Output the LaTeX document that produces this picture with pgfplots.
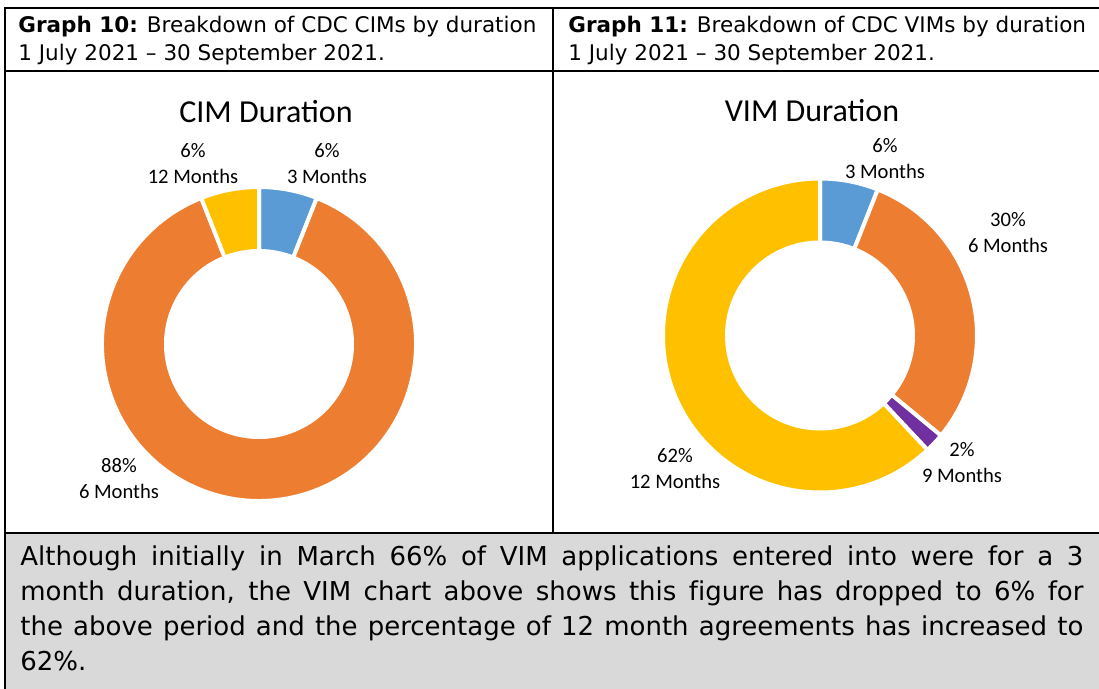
\documentclass[border=0pt]{standalone}
\usepackage{pgfplots}
\usepackage{pgfplotstable}
\pgfplotsset{compat=1.18}
\usepackage{fontspec}
\setmainfont{DejaVu Sans}[Ligatures=NoCommon]
\newfontfamily\calibri{Carlito}
\definecolor{cblue}{HTML}{5B9BD5}
\definecolor{corange}{HTML}{ED7D31}
\definecolor{cyellow}{HTML}{FFC000}
\definecolor{cpurple}{HTML}{7030A0}
\definecolor{greybg}{HTML}{D9D9D9}

\pgfplotstableread{
pct lx ly col lab
6 68 180 cblue {3 Months}
88 -140 -135 corange {6 Months}
6 -66 180 cyellow {12 Months}
}\cimtab

\pgfplotstableread{
pct lx ly col lab
6 65 177 cblue {3 Months}
30 188 103 corange {6 Months}
2 142 -127 cpurple {9 Months}
62 -145 -133 cyellow {12 Months}
}\vimtab

\newcommand\drawdonut[1]{%
  \pgfplotstablegetrowsof{#1}%
  \pgfmathtruncatemacro\nrows{\pgfplotsretval-1}%
  \gdef\curang{90}%
  \foreach \i in {0,...,\nrows}{%
    \pgfplotstablegetelem{\i}{pct}\of{#1}\let\spct\pgfplotsretval
    \pgfplotstablegetelem{\i}{col}\of{#1}\let\scol\pgfplotsretval
    \pgfplotstablegetelem{\i}{lx}\of{#1}\let\slx\pgfplotsretval
    \pgfplotstablegetelem{\i}{ly}\of{#1}\let\sly\pgfplotsretval
    \pgfplotstablegetelem{\i}{lab}\of{#1}\let\slab\pgfplotsretval
    \pgfmathsetmacro\endang{\curang-3.6*\spct}%
    \fill[\scol, draw=white, line width=2pt, shift={(axis cs:0,0)}]
      (\curang:78.5pt) arc[start angle=\curang, end angle=\endang, radius=78.5pt]
      -- (\endang:46.5pt) arc[start angle=\endang, end angle=\curang, radius=46.5pt] -- cycle;
    \node[align=center, inner sep=0, font=\calibri\fontsize{10.3}{13}\selectfont]
      at (axis cs:\slx,\sly) {\spct\%\\\slab};
    \xdef\curang{\endang}%
  }%
}

\begin{document}
\begin{tikzpicture}
\begin{scope}[x=0.5pt,y=-0.5pt]
\useasboundingbox (0,0) rectangle (1099,689);
\fill[greybg] (5,533) rectangle (1099,689);
\draw[line width=1pt] (5,689) -- (5,8) -- (1099,8);
\draw[line width=1pt] (5,71) -- (1099,71);
\draw[line width=1pt] (5,533) -- (1099,533);
\draw[line width=1pt] (553,8) -- (553,533);
\coordinate (cimc) at (259,344);
\coordinate (vimc) at (820,335.5);
\node[anchor=base west, inner sep=0, font=\fontsize{10.75}{12}\selectfont] at (18,33) {\textbf{Graph 10:} Breakdown of CDC CIMs by duration};
\node[anchor=base west, inner sep=0, font=\fontsize{10.75}{12}\selectfont] at (18,61) {1 July 2021 – 30 September 2021.};
\node[anchor=base west, inner sep=0, font=\fontsize{10.75}{12}\selectfont] at (568,33) {\textbf{Graph 11:} Breakdown of CDC VIMs by duration};
\node[anchor=base west, inner sep=0, font=\fontsize{10.75}{12}\selectfont] at (568,61) {1 July 2021 – 30 September 2021.};
\node[anchor=north west, inner sep=0, text width=531.5pt, align=justify, font=\fontsize{13}{17.5}\selectfont] at (20,545)
{Although initially in March 66\% of VIM applications entered into were for a 3\linebreak
month duration, the VIM chart above shows this figure has dropped to 6\% for\linebreak
the above period and the percentage of 12 month agreements has increased to\linebreak
62\%.};
\end{scope}
\begin{axis}[at={(cimc)}, anchor=origin, x=0.5pt, y=0.5pt, xmin=-200, xmax=200, ymin=-200, ymax=200, hide axis, clip=false]
\pgfplotsextra{\drawdonut{\cimtab}}
\node[font=\calibri\fontsize{16}{18}\selectfont] at (axis cs:7,232) {CIM Duration};
\end{axis}
\begin{axis}[at={(vimc)}, anchor=origin, x=0.5pt, y=0.5pt, xmin=-200, xmax=200, ymin=-200, ymax=200, hide axis, clip=false]
\pgfplotsextra{\drawdonut{\vimtab}}
\node[font=\calibri\fontsize{16}{18}\selectfont] at (axis cs:-8,225) {VIM Duration};
\end{axis}
\end{tikzpicture}
\end{document}
